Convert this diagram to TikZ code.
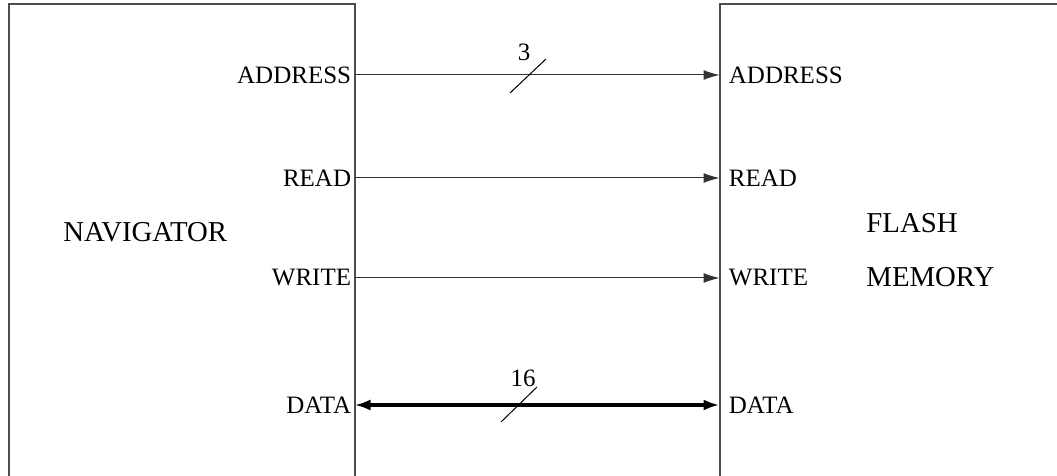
\documentclass[tikz,border=0pt]{standalone}
\usepackage{fontspec}
\setmainfont{Liberation Serif}
\usepackage{tikz}
\usetikzlibrary{arrows.meta}

\begin{document}
\begin{tikzpicture}[x=0.5pt, y=-0.5pt,
  blockline/.style={line width=1pt, black!70},
  sig/.style={line width=0.5pt, black!80, -{Latex[length=8pt,width=5pt]}},
  bus/.style={line width=1.8pt, {Latex[length=8pt,width=5.5pt]}-{Latex[length=8pt,width=5.5pt]}},
  pin/.style={font=\fontsize{12.5}{14}\selectfont, inner sep=1.5pt},
  title/.style={font=\fontsize{14.4}{16}\selectfont, anchor=west, inner sep=0pt}]
\useasboundingbox (0,0) rectangle (1057,476);

%draw blocks
\draw[blockline] (8.5,480) -- (8.5,4.5) -- (354.5,4.5) -- (354.5,480);
\draw[blockline] (719.5,480) -- (719.5,4.5) -- (1060,4.5);

\node[title] (nav) at (63,232) {NAVIGATOR};
\node[title] (flash) at (866,223) {FLASH};
\node[title] (memory) at (866,277) {MEMORY};

%pins
\coordinate (navAddr) at (354.5,75);
\coordinate (navRead) at (354.5,178);
\coordinate (navWrite) at (354.5,278);
\coordinate (navData) at (354.5,405);
\coordinate (flAddr) at (719.5,75);
\coordinate (flRead) at (719.5,178);
\coordinate (flWrite) at (719.5,278);
\coordinate (flData) at (719.5,405);

\node[pin, left] (lAddr) at (navAddr) {ADDRESS};
\node[pin, left] (lRead) at (navRead) {READ};
\node[pin, left] (lWrite) at (navWrite) {WRITE};
\node[pin, left] (lData) at (navData) {DATA};
\node[pin, right, xshift=3pt] (rAddr) at (flAddr) {ADDRESS};
\node[pin, right, xshift=3pt] (rRead) at (flRead) {READ};
\node[pin, right, xshift=3pt] (rWrite) at (flWrite) {WRITE};
\node[pin, right, xshift=3pt] (rData) at (flData) {DATA};

%draw signals
\draw[sig] (navAddr) -- (flAddr);
\draw[sig] (navRead) -- (flRead);
\draw[sig] (navWrite) -- (flWrite);
\draw[bus] (navData) -- (flData);

%bus widths
\draw[line width=0.5pt] (510,93) -- (546,59);
\node[pin] (wAddr) at (524,52) {3};
\draw[line width=0.5pt] (501,422) -- (537,387);
\node[pin] (wData) at (523,378) {16};

\end{tikzpicture}
\end{document}
